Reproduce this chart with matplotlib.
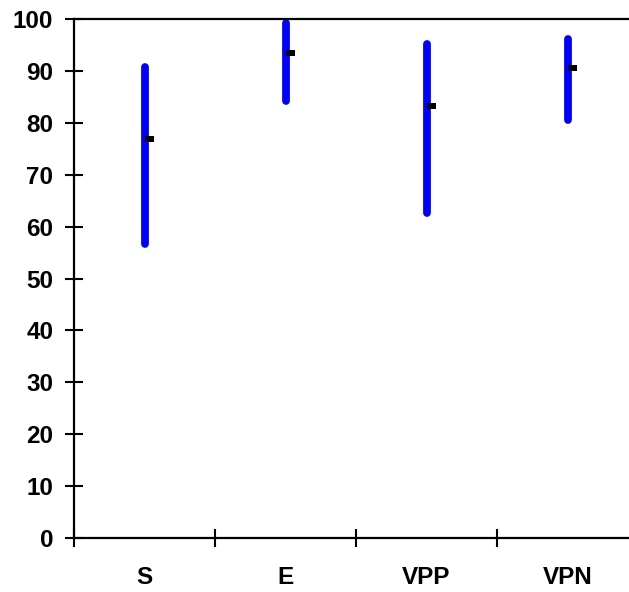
import matplotlib
matplotlib.use("Agg")
import matplotlib.pyplot as plt
from matplotlib.path import Path
import numpy as np

categories = ["S", "E", "VPP", "VPN"]
low = [56.6, 84.2, 62.7, 80.5]
high = [90.8, 99.3, 95.1, 96.1]
mean = [76.9, 93.4, 83.3, 90.5]
yticks = list(range(0, 101, 10))

plt.rcParams['font.family'] = ['Liberation Sans', 'DejaVu Sans']
plt.rcParams['font.weight'] = 'bold'

fig = plt.figure(figsize=(6.29, 5.92), dpi=100)
W, H = 629, 592
ax = fig.add_axes([74 / W, 54 / H, (638 - 74) / W, (538 - 19) / H])

x = np.arange(len(categories))
for xi, lo, hi in zip(x, low, high):
    ax.plot([xi, xi], [lo, hi], color='#0000FF', lw=5.6, solid_capstyle='round', zorder=2)

dash = Path([(0, -0.28), (1, -0.28), (1, 0.28), (0, 0.28), (0, -0.28)],
            [Path.MOVETO, Path.LINETO, Path.LINETO, Path.LINETO, Path.CLOSEPOLY])
ax.plot(x, mean, linestyle='none', marker=dash, markersize=13,
        markerfacecolor='black', markeredgewidth=0, zorder=3)

ax.set_xlim(-0.5, len(categories) - 0.5)
ax.set_ylim(0, 100)
ax.set_yticks(yticks)
ax.set_yticklabels([str(v) for v in yticks], fontsize=17.5, fontweight='bold')

ax.set_xticks(np.arange(len(categories) + 1) - 0.5)
ax.set_xticklabels([])
ax.set_xticks(x, minor=True)
ax.set_xticklabels(categories, minor=True, fontsize=17.5, fontweight='bold')

ax.tick_params(axis='y', which='major', direction='inout', length=13, width=1.5, pad=8.5)
ax.tick_params(axis='x', which='major', direction='inout', length=13, width=1.5)
ax.tick_params(axis='x', which='minor', length=0, pad=20)

for s in ax.spines.values():
    s.set_linewidth(1.6)
    s.set_color('black')

fig.savefig("out.png", dpi=100)
